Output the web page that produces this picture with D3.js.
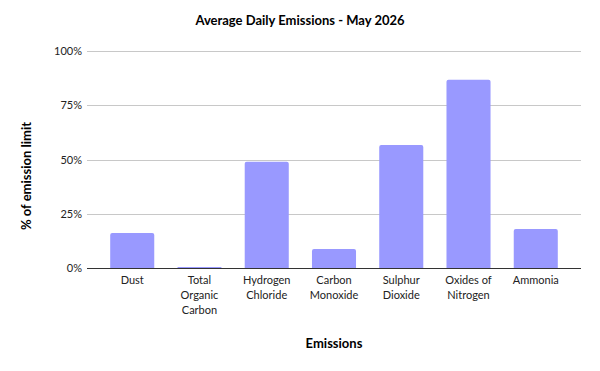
<!DOCTYPE html>
<html>
<head>
<meta charset="utf-8">
<script src="https://cdn.jsdelivr.net/npm/d3@7"></script>
<style>
  body { margin: 0; background: #fff; }
  text { font-family: Lato, "Open Sans", sans-serif; fill: #000; }
</style>
</head>
<body>
<svg></svg>
<script>
var categories = ['Dust', 'Total Organic Carbon', 'Hydrogen Chloride', 'Carbon Monoxide',
  'Sulphur Dioxide', 'Oxides of Nitrogen', 'Ammonia'];
var labelLines = [['Dust'], ['Total', 'Organic', 'Carbon'], ['Hydrogen', 'Chloride'],
  ['Carbon', 'Monoxide'], ['Sulphur', 'Dioxide'], ['Oxides of', 'Nitrogen'], ['Ammonia']];
var values = [0.161, 0.005, 0.49, 0.088, 0.567, 0.868, 0.18];
var yTicks = [0, 0.25, 0.5, 0.75, 1];

var width = 600,
  height = 371;

var svg = d3.select('svg')
  .attr('width', width)
  .attr('height', height);

var x = d3.scaleBand()
  .domain(categories)
  .range([87, 581])
  .padding(0.345);

var y = d3.scaleLinear()
  .domain([0, 1])
  .range([268, 51]);

// gridlines
svg.append('g')
  .selectAll('line')
  .data(yTicks.filter(d => d > 0))
  .join('line')
  .attr('x1', 87).attr('x2', 581)
  .attr('y1', d => Math.round(y(d)) + 0.5)
  .attr('y2', d => Math.round(y(d)) + 0.5)
  .attr('stroke', '#c8c8c8')
  .attr('stroke-width', 1);

// y tick labels
svg.append('g')
  .selectAll('text')
  .data(yTicks)
  .join('text')
  .attr('x', 82)
  .attr('y', d => y(d) + 4)
  .attr('text-anchor', 'end')
  .style('font-size', '11px')
  .style('fill', '#222')
  .text(d3.format('.0%'));

// bars, with slightly rounded top corners
function barPath(d, i) {
  var x0 = x(categories[i]), w = x.bandwidth(),
    y0 = y(0), y1 = y(d), r = Math.min(2, (y0 - y1) / 2);
  return 'M' + x0 + ',' + y0 + 'V' + (y1 + r) + 'Q' + x0 + ',' + y1 + ' ' + (x0 + r) + ',' + y1 +
    'H' + (x0 + w - r) + 'Q' + (x0 + w) + ',' + y1 + ' ' + (x0 + w) + ',' + (y1 + r) + 'V' + y0 + 'Z';
}

svg.append('g')
  .selectAll('path')
  .data(values)
  .join('path')
  .attr('d', barPath)
  .attr('fill', '#9999ff');

// baseline
svg.append('line')
  .attr('x1', 87).attr('x2', 581)
  .attr('y1', y(0) + 0.5).attr('y2', y(0) + 0.5)
  .attr('stroke', '#333')
  .attr('stroke-width', 1);

// category labels
var lbl = svg.append('g')
  .selectAll('text')
  .data(categories)
  .join('text')
  .attr('x', d => x(d) + x.bandwidth() / 2)
  .attr('y', 284)
  .attr('text-anchor', 'middle')
  .style('font-size', '11px')
  .style('fill', '#222');

lbl.selectAll('tspan')
  .data((d, i) => labelLines[i])
  .join('tspan')
  .attr('x', function() { return d3.select(this.parentNode).attr('x'); })
  .attr('dy', (d, i) => i ? 15 : 0)
  .text(d => d);

// title
svg.append('text')
  .attr('x', 300)
  .attr('y', 25)
  .attr('text-anchor', 'middle')
  .style('font-size', '13px')
  .style('font-weight', 'bold')
  .text('Average Daily Emissions - May 2026');

// axis titles
svg.append('text')
  .attr('x', 334)
  .attr('y', 348)
  .attr('text-anchor', 'middle')
  .style('font-size', '13px')
  .style('font-weight', 'bold')
  .text('Emissions');

svg.append('text')
  .attr('transform', 'translate(31,' + 176 + ') rotate(-90)')
  .attr('text-anchor', 'middle')
  .style('font-size', '13px')
  .style('font-weight', 'bold')
  .text('% of emission limit');
</script>
</body>
</html>
